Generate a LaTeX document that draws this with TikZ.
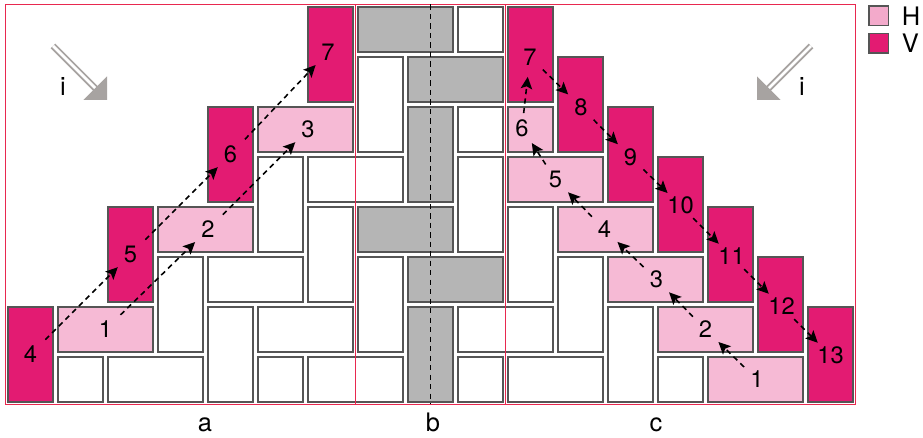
\documentclass[tikz,border=0pt]{standalone}
\usepackage{fontspec}
\setmainfont{TeX Gyre Heros}
\usetikzlibrary{arrows.meta}

\definecolor{hpink}{HTML}{F6BAD5}
\definecolor{legpink}{HTML}{F3AACB}
\definecolor{vpink}{HTML}{E31B72}
\definecolor{tilegray}{HTML}{B5B5B5}
\definecolor{edgegray}{HTML}{555555}
\definecolor{framered}{HTML}{E8284F}
\definecolor{arrowgray}{HTML}{A7A3A1}

% \putbrick{style}{column}{row}{width}{height}
\newcommand\putbrick[5]{\draw[#1] ({#2+0.05},{#3+0.05}) rectangle ({#2+#4-0.05},{#3+#5-0.05});}

\begin{document}
\begin{tikzpicture}[x=1cm,y=1cm,
  brick/.style={draw=edgegray, line width=0.75pt},
  wbrick/.style={brick, fill=white},
  gbrick/.style={brick, fill=tilegray},
  hbrick/.style={brick, fill=hpink},
  vbrick/.style={brick, fill=vpink},
  num/.style={font=\fontsize{13.5}{15}\selectfont, inner sep=0pt},
  letter/.style={font=\fontsize{14.5}{16}\selectfont, inner sep=0pt},
  flow/.style={dash pattern=on 3pt off 2.4pt, line width=0.9pt,
    -{Stealth[length=2.4mm,width=2.3mm,inset=0.5mm]}},
  flowa/.style={flow, shorten <=0.42cm, shorten >=0.36cm},
  flowc/.style={flow, shorten <=0.36cm, shorten >=0.36cm},
  divider/.style={framered, line width=1pt},
  wide/.style={arrowgray, line width=1.1pt, double=white, double distance=1.6pt},
]
\useasboundingbox (-0.11,-0.67) rectangle (18.35,8.09);

% ---------- tiles: white ----------
\putbrick{wbrick}{1}{0}{1}{1}
\putbrick{wbrick}{2}{0}{2}{1}
\putbrick{wbrick}{4}{0}{1}{2}
\putbrick{wbrick}{5}{0}{1}{1}
\putbrick{wbrick}{6}{0}{2}{1}
\putbrick{wbrick}{3}{1}{1}{2}
\putbrick{wbrick}{5}{1}{2}{1}
\putbrick{wbrick}{7}{1}{1}{2}
\putbrick{wbrick}{4}{2}{2}{1}
\putbrick{wbrick}{6}{2}{1}{2}
\putbrick{wbrick}{5}{3}{1}{2}
\putbrick{wbrick}{6}{4}{2}{1}
\putbrick{wbrick}{7}{5}{1}{2}
\putbrick{wbrick}{9}{7}{1}{1}
\putbrick{wbrick}{9}{5}{1}{1}
\putbrick{wbrick}{9}{3}{1}{2}
\putbrick{wbrick}{9}{1}{2}{1}
\putbrick{wbrick}{9}{0}{1}{1}
\putbrick{wbrick}{10}{0}{2}{1}
\putbrick{wbrick}{10}{2}{1}{2}
\putbrick{wbrick}{11}{1}{1}{2}
\putbrick{wbrick}{12}{0}{1}{2}
\putbrick{wbrick}{13}{0}{1}{1}

% ---------- tiles: gray ----------
\putbrick{gbrick}{7}{7}{2}{1}
\putbrick{gbrick}{8}{6}{2}{1}
\putbrick{gbrick}{8}{4}{1}{2}
\putbrick{gbrick}{7}{3}{2}{1}
\putbrick{gbrick}{8}{2}{2}{1}
\putbrick{gbrick}{8}{0}{1}{2}

% ---------- tiles: horizontal ----------
\putbrick{hbrick}{1}{1}{2}{1}
\putbrick{hbrick}{3}{3}{2}{1}
\putbrick{hbrick}{5}{5}{2}{1}
\putbrick{hbrick}{14}{0}{2}{1}
\putbrick{hbrick}{13}{1}{2}{1}
\putbrick{hbrick}{12}{2}{2}{1}
\putbrick{hbrick}{11}{3}{2}{1}
\putbrick{hbrick}{10}{4}{2}{1}
\putbrick{hbrick}{10}{5}{1}{1}

% ---------- tiles: vertical ----------
\putbrick{vbrick}{0}{0}{1}{2}
\putbrick{vbrick}{2}{2}{1}{2}
\putbrick{vbrick}{4}{4}{1}{2}
\putbrick{vbrick}{6}{6}{1}{2}
\putbrick{vbrick}{10}{6}{1}{2}
\putbrick{vbrick}{11}{5}{1}{2}
\putbrick{vbrick}{12}{4}{1}{2}
\putbrick{vbrick}{13}{3}{1}{2}
\putbrick{vbrick}{14}{2}{1}{2}
\putbrick{vbrick}{15}{1}{1}{2}
\putbrick{vbrick}{16}{0}{1}{2}

% ---------- frame and section dividers ----------
\draw[divider] (0,0) rectangle (17,8);
\draw[divider] (7,0) -- (7,8);
\draw[divider] (10,0) -- (10,8);
\coordinate (axtop) at (8.5,8);
\coordinate (axbot) at (8.5,0);
\draw[dash pattern=on 3pt off 2.4pt, line width=0.9pt] (axtop) -- (axbot);

% ---------- numbers, section a ----------
\node[num] (a4) at (0.5,1) {4};
\node[num] (a1) at (2,1.5) {1};
\node[num] (a5) at (2.5,3) {5};
\node[num] (a2) at (4.05,3.5) {2};
\node[num] (a6) at (4.5,5) {6};
\node[num] (a3) at (6.05,5.5) {3};
\node[num] (a7) at (6.45,7.05) {7};

% ---------- numbers, section c ----------
\node[num] (c1) at (15.03,0.5) {1};
\node[num] (c2) at (14,1.5) {2};
\node[num] (c3) at (13.02,2.5) {3};
\node[num] (c4) at (11.98,3.5) {4};
\node[num] (c5) at (11,4.5) {5};
\node[num] (c6) at (10.33,5.53) {6};
\node[num] (c7) at (10.49,6.95) {7};
\node[num] (c8) at (11.51,5.95) {8};
\node[num] (c9) at (12.5,4.95) {9};
\node[num] (c10) at (13.5,3.98) {10};
\node[num] (c11) at (14.52,2.96) {11};
\node[num] (c12) at (15.52,1.96) {12};
\node[num] (c13) at (16.5,0.98) {13};

% ---------- sequence arrows ----------
\draw[flowa] (a4.center) -- (a5.center);
\draw[flowa] (a5.center) -- (a6.center);
\draw[flowa] (a6.center) -- (a7.center);
\draw[flowa] (a1.center) -- (a2.center);
\draw[flowa] (a2.center) -- (a3.center);

\draw[flowc] (c1.center) -- (c2.center);
\draw[flowc] (c2.center) -- (c3.center);
\draw[flowc] (c3.center) -- (c4.center);
\draw[flowc] (c4.center) -- (c5.center);
\draw[flowc] (c5.center) -- (c6.center);
\draw[flow, shorten <=0.3cm, shorten >=0.4cm] (c6.center) -- (c7.center);
\draw[flowc] (c7.center) -- (c8.center);
\draw[flowc] (c8.center) -- (c9.center);
\draw[flowc] (c9.center) -- (c10.center);
\draw[flowc] (c10.center) -- (c11.center);
\draw[flowc] (c11.center) -- (c12.center);
\draw[flowc] (c12.center) -- (c13.center);

% ---------- incidence arrows ----------
\draw[wide] (0.95,7.17) -- (1.82,6.30);
\fill[arrowgray] (2.03,6.09) -- (2.03,6.56) -- (1.56,6.09) -- cycle;
\node[letter] (ileft) at (1.15,6.35) {i};

\draw[wide] (16.11,7.17) -- (15.24,6.30);
\fill[arrowgray] (15.03,6.09) -- (15.03,6.56) -- (15.50,6.09) -- cycle;
\node[letter] (iright) at (15.93,6.35) {i};

% ---------- section names ----------
\node[letter, anchor=base] (la) at (3.99,-0.55) {a};
\node[letter, anchor=base] (lb) at (8.55,-0.55) {b};
\node[letter, anchor=base] (lc) at (13.01,-0.55) {c};

% ---------- legend ----------
\draw[brick, fill=legpink] (17.27,7.58) rectangle (17.66,7.97);
\draw[brick, fill=vpink] (17.27,7.03) rectangle (17.66,7.42);
\node[letter, anchor=base west] (legh) at (17.92,7.57) {H};
\node[letter, anchor=base west] (legv) at (17.92,7.03) {V};
\end{tikzpicture}
\end{document}
